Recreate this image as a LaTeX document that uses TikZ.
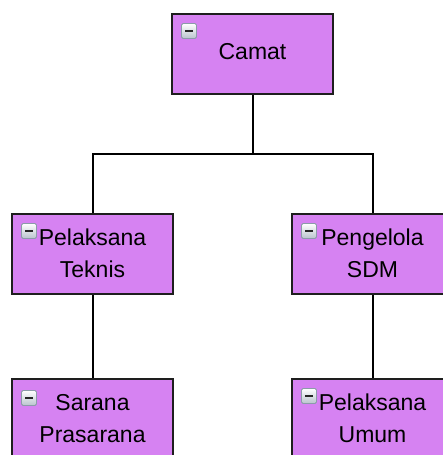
\documentclass[tikz,border=0pt]{standalone}
\usepackage{fontspec}
\setmainfont{Liberation Sans}
\usetikzlibrary{calc}
\definecolor{boxfill}{RGB}{214,130,242}
\definecolor{boxline}{RGB}{30,30,30}
\definecolor{iconborder}{RGB}{140,155,170}
\definecolor{icongray}{RGB}{185,195,205}
\tikzset{
  orgbox/.style={draw=boxline, fill=boxfill, line width=2pt, minimum width=161pt,
    inner sep=0pt, align=center, font=\fontsize{23}{32}\selectfont, text=black},
  oneline/.style={orgbox, minimum height=80pt, text height=17pt, text depth=7pt},
  twoline/.style={orgbox, minimum height=80pt, text height=49pt, text depth=3pt},
  conn/.style={draw=black, line width=2pt},
  minusicon/.style={draw=iconborder, line width=0.8pt, rounded corners=1.5pt,
    minimum size=15pt, inner sep=0pt, top color=white, bottom color=icongray,
    path picture={\draw[line width=2pt, black!85]
      ([xshift=3.5pt]path picture bounding box.west) --
      ([xshift=-3.5pt]path picture bounding box.east);}}
}
\begin{document}
\begin{tikzpicture}[x=1pt,y=-1pt]
\useasboundingbox (0,0) rectangle (443,455);
\clip (0,0) rectangle (443,455);
\coordinate (j) at (252.5,154);
\node[oneline] (camat) at (252.5,54) {Camat};
\node[twoline] (teknis) at (92.5,254) {Pelaksana\\Teknis};
\node[twoline] (sdm) at (372.5,254) {Pengelola\\SDM};
\node[twoline] (sarana) at (92.5,419) {Sarana\\Prasarana};
\node[twoline] (umum) at (372.5,419) {Pelaksana\\Umum};
\draw[conn] (camat.south) -- (j);
\draw[conn] (teknis.north) |- (j) -| (sdm.north);
\draw[conn] (teknis.south) -- (sarana.north);
\draw[conn] (sdm.south) -- (umum.north);
\node[minusicon] (camatI) at ($(camat.north west)+(18,18)$) {};
\node[minusicon] (teknisI) at ($(teknis.north west)+(18,18)$) {};
\node[minusicon] (sdmI) at ($(sdm.north west)+(18,18)$) {};
\node[minusicon] (saranaI) at ($(sarana.north west)+(18,20)$) {};
\node[minusicon] (umumI) at ($(umum.north west)+(18,18)$) {};
\end{tikzpicture}
\end{document}
